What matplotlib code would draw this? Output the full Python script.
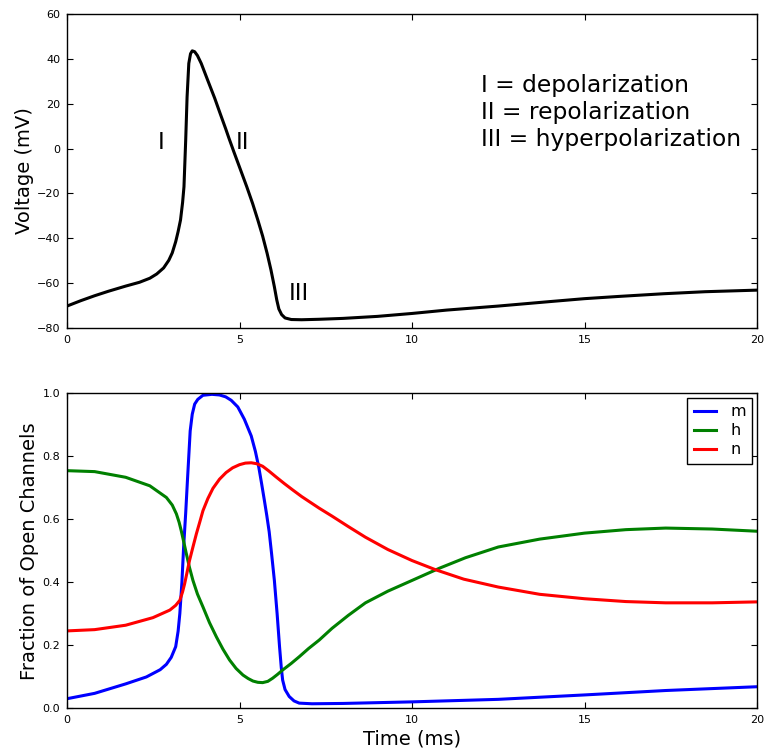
import matplotlib
matplotlib.use("Agg")
import matplotlib.pyplot as plt

# Membrane potential of a Hodgkin-Huxley spike (time in ms, voltage in mV)
v_time = [0, 0.4, 0.8, 1.2, 1.7, 2.1, 2.4, 2.6, 2.8, 2.95, 3.05, 3.15, 3.22, 3.29,
          3.35, 3.39, 3.44, 3.48, 3.53, 3.58, 3.63, 3.70, 3.78, 3.89, 4.08, 4.28,
          4.44, 4.60, 4.69, 4.84, 5.03, 5.21, 5.38, 5.53, 5.67, 5.80, 5.91,
          6.01, 6.08, 6.14, 6.22, 6.32, 6.5, 6.8, 7.3, 8, 9, 10, 11, 12.5, 14, 15,
          16, 17.3, 18.5, 20]
v_mv = [-70.2, -67.8, -65.6, -63.6, -61.3, -59.6, -57.8, -55.9, -53.2, -49.8, -46.5,
        -41.5, -37.0, -31.8, -24.0, -17.0, 3.8, 23.0, 38.0, 42.3, 43.6, 43.2, 41.5,
        38.0, 30.4, 22.5, 15.6, 8.8, 4.8, -1.6, -9.5, -17.0, -24.5, -31.8,
        -39.0, -46.7, -54.0, -61.6, -67.5, -71.5, -74.0, -75.5, -76.2, -76.3, -76.1,
        -75.7, -74.8, -73.5, -72.0, -70.2, -68.2, -66.9, -65.9, -64.7, -63.8, -63.1]

# Gating variables
m_time = [0, 0.8, 1.7, 2.3, 2.7, 2.88, 3.02, 3.15, 3.22, 3.27, 3.33, 3.38, 3.44, 3.49,
          3.57, 3.63, 3.70, 3.79, 3.94, 4.2, 4.42, 4.6, 4.76, 4.95, 5.14, 5.34, 5.46,
          5.56, 5.64, 5.72, 5.79, 5.86, 5.93, 6.01, 6.09, 6.16, 6.21, 6.25, 6.32, 6.44,
          6.58, 6.73, 7.1, 8, 10, 12.5, 15, 17.35, 20]
m_frac = [0.031, 0.048, 0.078, 0.100, 0.123, 0.140, 0.162, 0.196, 0.245, 0.301, 0.400,
          0.512, 0.620, 0.722, 0.880, 0.933, 0.965, 0.980, 0.993, 0.996, 0.994, 0.988,
          0.977, 0.956, 0.917, 0.864, 0.815, 0.764, 0.713, 0.660, 0.612, 0.560, 0.490,
          0.406, 0.300, 0.196, 0.130, 0.090, 0.060, 0.038, 0.024, 0.017, 0.015, 0.016,
          0.021, 0.029, 0.043, 0.057, 0.069]

h_time = [0, 0.8, 1.7, 2.4, 2.88, 3.05, 3.17, 3.25, 3.31, 3.38, 3.46, 3.55, 3.65, 3.78,
          3.94, 4.13, 4.33, 4.52, 4.71, 4.90, 5.10, 5.25, 5.39, 5.53, 5.67, 5.82, 5.96,
          6.1, 6.25, 6.5, 6.73, 7.0, 7.31, 7.68, 8.15, 8.65, 9.3, 10, 10.8, 11.55, 12.5,
          13.7, 15, 16.2, 17.35, 18.7, 20]
h_frac = [0.754, 0.751, 0.733, 0.706, 0.669, 0.645, 0.617, 0.590, 0.564, 0.530, 0.490,
          0.447, 0.406, 0.363, 0.322, 0.272, 0.227, 0.188, 0.154, 0.127, 0.106, 0.095,
          0.087, 0.083, 0.082, 0.086, 0.096, 0.108, 0.122, 0.143, 0.164, 0.190, 0.217,
          0.254, 0.295, 0.335, 0.372, 0.406, 0.445, 0.478, 0.512, 0.537, 0.556, 0.567,
          0.572, 0.569, 0.562]

n_time = [0, 0.8, 1.7, 2.49, 2.98, 3.15, 3.27, 3.35, 3.41, 3.48, 3.55, 3.65, 3.75, 3.85,
          3.94, 4.08, 4.23, 4.42, 4.61, 4.80, 5.0, 5.17, 5.34, 5.5, 5.67, 5.85, 6.06, 6.3,
          6.54, 6.8, 7.02, 7.31, 7.68, 8.15, 8.65, 9.3, 10, 10.68, 11.5, 12.5, 13.7, 15,
          16.2, 17.35, 18.7, 20]
n_frac = [0.246, 0.250, 0.264, 0.288, 0.312, 0.327, 0.343, 0.370, 0.396, 0.432, 0.469,
          0.512, 0.554, 0.592, 0.627, 0.665, 0.698, 0.727, 0.748, 0.763, 0.773, 0.778,
          0.779, 0.776, 0.768, 0.753, 0.734, 0.713, 0.693, 0.672, 0.656, 0.635, 0.610,
          0.577, 0.543, 0.504, 0.469, 0.440, 0.410, 0.385, 0.362, 0.348, 0.339, 0.335,
          0.335, 0.338]

gate_names = ["m", "h", "n"]
phase_labels = ["I", "II", "III"]
phase_legend = "I = depolarization\nII = repolarization\nIII = hyperpolarization"

plt.rcParams.update({
    "font.family": "DejaVu Sans",
    "axes.linewidth": 1.0,
    "xtick.direction": "in",
    "ytick.direction": "in",
    "xtick.top": True,
    "ytick.right": True,
    "xtick.major.size": 4,
    "ytick.major.size": 4,
    "xtick.labelsize": 8,
    "ytick.labelsize": 8,
    "xtick.major.pad": 5,
    "ytick.major.pad": 5,
})

fig = plt.figure(figsize=(7.65, 7.51), dpi=100)
ax1 = fig.add_axes([0.0876, 0.5632, 0.9020, 0.4181])
ax2 = fig.add_axes([0.0876, 0.0566, 0.9020, 0.4200])

ax1.plot(v_time, v_mv, color="black", lw=2.2)
ax1.set_xlim(0, 20)
ax1.set_ylim(-80, 60)
ax1.set_xticks([0, 5, 10, 15, 20])
ax1.set_yticks(range(-80, 61, 20))
ax1.set_ylabel("Voltage (mV)", fontsize=14, labelpad=1.7)

ax1.text(2.73, 0, phase_labels[0], fontsize=16.8, ha="center", va="baseline")
ax1.text(5.1, 0, phase_labels[1], fontsize=16.8, ha="center", va="baseline")
ax1.text(6.71, -67.5, phase_labels[2], fontsize=16.8, ha="center", va="baseline")
ax1.text(12.0, -0.9, phase_legend, fontsize=16.8, ha="left", va="bottom",
         linespacing=1.2)

ax2.plot(m_time, m_frac, color="blue", lw=2.2, label=gate_names[0])
ax2.plot(h_time, h_frac, color="green", lw=2.2, label=gate_names[1])
ax2.plot(n_time, n_frac, color="red", lw=2.2, label=gate_names[2])
ax2.set_xlim(0, 20)
ax2.set_ylim(0, 1)
ax2.set_xticks([0, 5, 10, 15, 20])
ax2.set_yticks([0.0, 0.2, 0.4, 0.6, 0.8, 1.0])
ax2.set_xlabel("Time (ms)", fontsize=14, labelpad=3)
ax2.set_ylabel("Fraction of Open Channels", fontsize=14, labelpad=2.6)

leg = ax2.legend(loc="upper right", fontsize=11.5, fancybox=False, framealpha=1,
                 edgecolor="black", handlelength=1.4, handletextpad=0.9,
                 labelspacing=0.25, borderpad=0.4, borderaxespad=0.3)
leg.get_frame().set_linewidth(1.0)

fig.savefig("out.png", dpi=100, facecolor="white")
